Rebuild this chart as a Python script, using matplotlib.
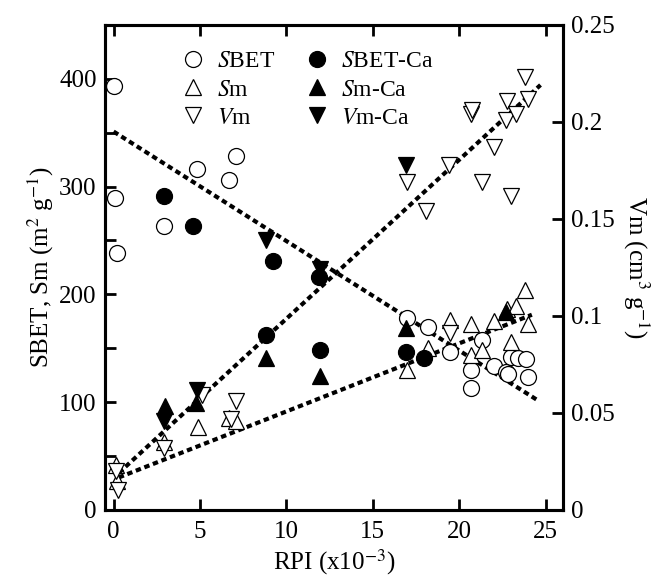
import matplotlib
matplotlib.use("Agg")
import matplotlib.pyplot as plt
from matplotlib.ticker import MultipleLocator, FuncFormatter
from matplotlib.lines import Line2D

plt.rcParams['font.family'] = ['Liberation Serif', 'DejaVu Serif']
plt.rcParams['mathtext.fontset'] = 'stix'

# S_BET (m2/g) - untreated
sbet_x = [0, 0.1, 0.2, 2.9, 4.85, 6.7, 7.1, 17.0, 18.2, 19.45, 20.7, 20.65,
          21.3, 22.0, 22.7, 22.8, 23.0, 23.4, 23.85, 24.0]
sbet_y = [393, 289, 238, 263, 316, 306, 328, 178, 170, 146, 130, 113,
          158, 133, 128, 126, 142, 141, 140, 123]

# Sm (m2/g) - untreated
sm_x = [0.15, 0.2, 2.9, 4.9, 6.7, 7.1, 17.0, 18.2, 19.45, 20.65, 20.7, 21.3,
        22.0, 22.75, 23.0, 23.3, 23.8, 24.0]
sm_y = [42, 27, 63, 77, 85, 82, 130, 150, 176, 144, 172, 148,
        175, 186, 156, 189, 204, 172]

# Vm (cm3/g) - untreated, right axis
vm_x = [0.15, 0.25, 2.9, 5.1, 6.8, 7.1, 17.0, 18.1, 19.4, 19.45, 20.7, 20.75,
        21.3, 22.0, 22.7, 22.75, 23.0, 23.3, 23.8, 24.0]
vm_y = [0.020, 0.010, 0.032, 0.059, 0.047, 0.056, 0.169, 0.154, 0.178, 0.091,
        0.204, 0.206, 0.169, 0.187, 0.201, 0.211, 0.162, 0.204, 0.223, 0.212]

# Ca-treated samples
sbetca_x = [2.9, 4.6, 8.8, 9.2, 11.9, 11.95, 16.9, 17.95]
sbetca_y = [291, 263, 162, 231, 216, 148, 146, 141]

smca_x = [3.0, 4.75, 8.8, 11.95, 16.9, 22.7]
smca_y = [96, 99, 141, 124, 169, 184]

vmca_x = [2.9, 4.8, 8.8, 11.95, 16.9]
vmca_y = [0.046, 0.062, 0.139, 0.124, 0.178]

# fitted trend lines (end points)
fit_sbet_x = [0, 24.5]
fit_sbet_y = [351, 102]
fit_sm_x = [0.3, 24.2]
fit_sm_y = [30, 181]
fit_vm_x = [0.3, 24.7]
fit_vm_y = [0.019, 0.219]

fig = plt.figure(figsize=(6.6, 5.78), dpi=100)
ax = fig.add_axes([0.159, 0.118, 0.694, 0.839])
ax2 = ax.twinx()

ms = 11.5
dots = dict(color='black', lw=3.0, linestyle=(0, (1.3, 0.9)), dash_capstyle='butt')

ax.plot(fit_sbet_x, fit_sbet_y, **dots)
ax.plot(fit_sm_x, fit_sm_y, **dots)
ax2.plot(fit_vm_x, fit_vm_y, **dots)

open_kw = dict(linestyle='none', mfc='white', mec='black', mew=0.9, ms=ms)
fill_kw = dict(linestyle='none', mfc='black', mec='black', mew=0.9, ms=ms)

ax.plot(sbet_x, sbet_y, marker='o', **open_kw)
ax.plot(sm_x, sm_y, marker='^', **open_kw)
ax2.plot(vm_x, vm_y, marker='v', **open_kw)
ax.plot(sbetca_x, sbetca_y, marker='o', **fill_kw)
ax.plot(smca_x, smca_y, marker='^', **fill_kw)
ax2.plot(vmca_x, vmca_y, marker='v', **fill_kw)

ax.set_xlim(-0.5, 26)
ax.set_ylim(0, 450)
ax2.set_ylim(0, 0.25)

ax.xaxis.set_major_locator(MultipleLocator(5))
ax.yaxis.set_major_locator(MultipleLocator(100))
ax.yaxis.set_minor_locator(MultipleLocator(50))
ax2.yaxis.set_major_locator(MultipleLocator(0.05))
ax2.yaxis.set_major_formatter(FuncFormatter(lambda v, p: '%g' % round(v, 3)))

ax.tick_params(axis='x', which='both', direction='in', top=True, length=8, width=2,
               labelsize=18, pad=8)
ax.tick_params(axis='y', which='both', direction='in', length=8, width=2,
               labelsize=18, pad=6)
ax2.tick_params(axis='y', which='both', direction='in', length=8, width=2,
                labelsize=18, pad=6)

for a in (ax, ax2):
    for s in a.spines.values():
        s.set_linewidth(2.2)

ax.set_xlabel(r'RPI (x10$^{-3}$)', fontsize=18, labelpad=3)
ax.set_ylabel(r'SBET, Sm (m$^{2}$ g$^{-1}$)', fontsize=18, labelpad=2)
ax2.set_ylabel(r'Vm (cm$^{3}$ g$^{-1}$)', fontsize=18, rotation=270, labelpad=26)

handles = [
    Line2D([], [], marker='o', **open_kw),
    Line2D([], [], marker='^', **open_kw),
    Line2D([], [], marker='v', **open_kw),
    Line2D([], [], marker='o', **fill_kw),
    Line2D([], [], marker='^', **fill_kw),
    Line2D([], [], marker='v', **fill_kw),
]
labels = [r'$\it{S}$BET', r'$\it{S}$m', r'$\it{V}$m',
          r'$\it{S}$BET-Ca', r'$\it{S}$m-Ca', r'$\it{V}$m-Ca']
ax.legend(handles, labels, ncol=2, frameon=False, fontsize=17,
          loc='upper left', bbox_to_anchor=(0.12, 0.99),
          handlelength=1.0, handletextpad=0.5, columnspacing=1.3,
          labelspacing=0.28)

fig.savefig('out.png', dpi=100)
